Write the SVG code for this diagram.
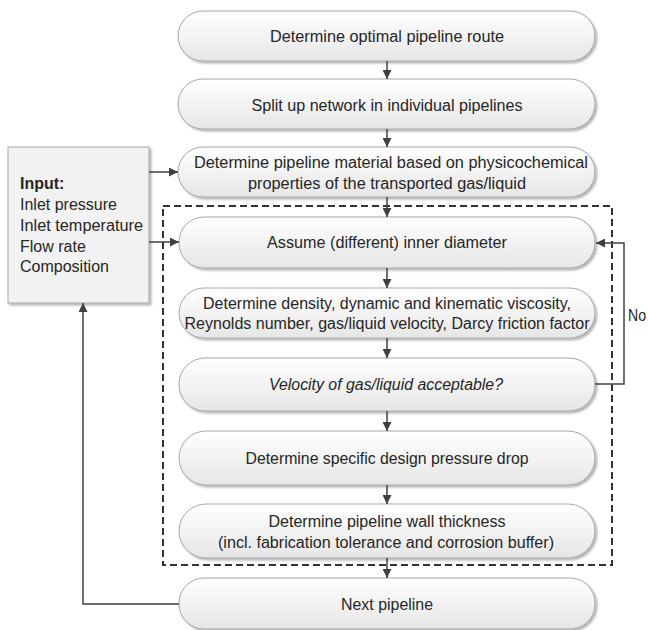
<svg xmlns="http://www.w3.org/2000/svg" width="648" height="630" viewBox="0 0 648 630">
<defs>
<linearGradient id="g" x1="0" y1="0" x2="0" y2="1">
<stop offset="0" stop-color="#ffffff"/>
<stop offset="1" stop-color="#e6e6e6"/>
</linearGradient>
<filter id="sh" x="-5%" y="-10%" width="110%" height="130%">
<feGaussianBlur in="SourceAlpha" stdDeviation="1.2"/>
<feOffset dx="1.5" dy="1.5" result="b"/>
<feComponentTransfer><feFuncA type="linear" slope="0.3"/></feComponentTransfer>
<feMerge><feMergeNode/><feMergeNode in="SourceGraphic"/></feMerge>
</filter>
<marker id="ah" viewBox="0 0 10 10" refX="10" refY="5" markerWidth="9" markerHeight="9" markerUnits="userSpaceOnUse" orient="auto">
<path d="M0,0 L10,5 L0,10 z" fill="#404040"/>
</marker>
</defs>
<style>
.n{fill:url(#g);stroke:#a6a6a6;stroke-width:1;filter:url(#sh)}
.t{font-family:"Liberation Sans",Arial,sans-serif;font-size:16px;fill:#262626;text-anchor:middle}
.l{font-family:"Liberation Sans",Arial,sans-serif;font-size:16px;fill:#262626}
.c{fill:none;stroke:#404040;stroke-width:1.5}
.a{marker-end:url(#ah)}
</style>
<rect width="648" height="630" fill="#ffffff"/>

<g id="input">
<rect x="8" y="147" width="141" height="156" fill="#f2f2f2" stroke="#a6a6a6" filter="url(#sh)"/>
<text class="l" x="20" y="189" font-weight="bold">Input:</text>
<text class="l" x="20" y="210">Inlet pressure</text>
<text class="l" x="20" y="231" textLength="123" lengthAdjust="spacingAndGlyphs">Inlet temperature</text>
<text class="l" x="20" y="252">Flow rate</text>
<text class="l" x="20" y="272">Composition</text>
</g>

<g id="n1"><rect class="n" x="178" y="11" width="417" height="50" rx="25"/><text class="t" x="387" y="42" textLength="234" lengthAdjust="spacingAndGlyphs">Determine optimal pipeline route</text></g>
<g id="n2"><rect class="n" x="178" y="79" width="417" height="50" rx="25"/><text class="t" x="387" y="111" textLength="271" lengthAdjust="spacingAndGlyphs">Split up network in individual pipelines</text></g>
<g id="n3"><rect class="n" x="178" y="147" width="417" height="50" rx="25"/><text class="t" x="391" y="168" textLength="394" lengthAdjust="spacingAndGlyphs">Determine pipeline material based on physicochemical</text><text class="t" x="387" y="189" textLength="278" lengthAdjust="spacingAndGlyphs">properties of the transported gas/liquid</text></g>
<g id="n4"><rect class="n" x="179" y="217" width="416" height="51" rx="25"/><text class="t" x="387" y="248" textLength="240" lengthAdjust="spacingAndGlyphs">Assume (different) inner diameter</text></g>
<g id="n5"><rect class="n" x="179" y="288" width="416" height="50" rx="25"/><text class="t" x="387" y="309" textLength="368" lengthAdjust="spacingAndGlyphs">Determine density, dynamic and kinematic viscosity,</text><text class="t" x="387" y="329" textLength="405" lengthAdjust="spacingAndGlyphs">Reynolds number, gas/liquid velocity, Darcy friction factor</text></g>
<g id="n6"><rect class="n" x="179" y="358" width="416" height="53" rx="26"/><text class="t" x="386" y="390" font-style="italic" textLength="234" lengthAdjust="spacingAndGlyphs">Velocity of gas/liquid acceptable?</text></g>
<g id="n7"><rect class="n" x="179" y="431" width="416" height="54" rx="27"/><text class="t" x="387" y="464" textLength="283" lengthAdjust="spacingAndGlyphs">Determine specific design pressure drop</text></g>
<g id="n8"><rect class="n" x="179" y="504" width="416" height="54" rx="27"/><text class="t" x="387" y="527" textLength="237" lengthAdjust="spacingAndGlyphs">Determine pipeline wall thickness</text><text class="t" x="386" y="548" textLength="336" lengthAdjust="spacingAndGlyphs">(incl. fabrication tolerance and corrosion buffer)</text></g>
<g id="n9"><rect class="n" x="179" y="578" width="416" height="51" rx="25"/><text class="t" x="387" y="610" textLength="92" lengthAdjust="spacingAndGlyphs">Next pipeline</text></g>

<g id="group-box">
<rect x="163" y="206" width="449" height="359" fill="none" stroke="#333333" stroke-width="2" stroke-dasharray="7 4"/>
</g>

<g id="connectors">
<line class="c a" x1="387" y1="61" x2="387" y2="79"/>
<line class="c a" x1="387" y1="129" x2="387" y2="147"/>
<line class="c a" x1="387" y1="197" x2="387" y2="217"/>
<line class="c a" x1="387" y1="268" x2="387" y2="288"/>
<line class="c a" x1="387" y1="338" x2="387" y2="358"/>
<line class="c a" x1="387" y1="411" x2="387" y2="431"/>
<line class="c a" x1="387" y1="485" x2="387" y2="504"/>
<line class="c a" x1="387" y1="558" x2="387" y2="578"/>
<line class="c a" x1="149" y1="172" x2="178" y2="172"/>
<line class="c a" x1="149" y1="242" x2="179" y2="242"/>
<polyline class="c a" points="595,384 624,384 624,243 596,243"/>
<polyline class="c a" points="179,604 83,604 83,303"/>
<text class="l" x="628" y="321" textLength="18" lengthAdjust="spacingAndGlyphs">No</text>
</g>
</svg>
